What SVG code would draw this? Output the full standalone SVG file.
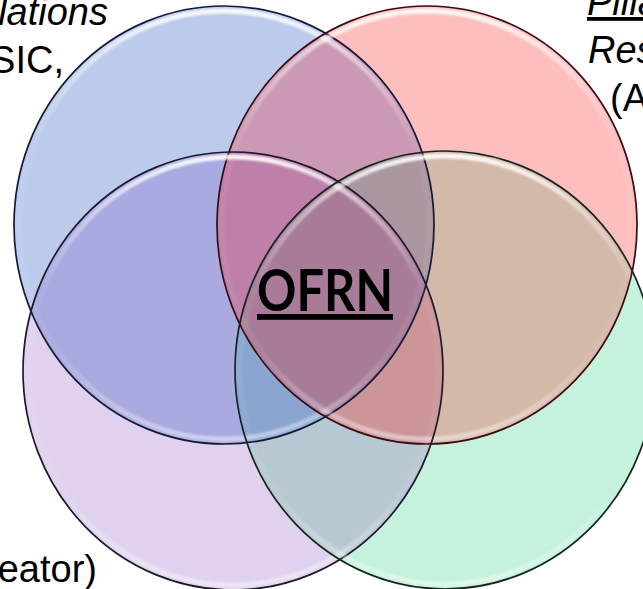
<svg xmlns="http://www.w3.org/2000/svg" width="643" height="589" viewBox="0 0 643 589">
<defs>
<style>
.lbl{font-family:"Liberation Sans",Arial,sans-serif;font-size:38px;fill:#000}
.it{font-style:italic}
.edge{fill:none;stroke-width:1.7}
.hl{fill:none;stroke:url(#hlg);stroke-width:5;filter:url(#soft)}
.center{font-family:Lato,"Open Sans",sans-serif;font-weight:700;font-size:58px;fill:#000;text-decoration:underline}
</style>
<linearGradient id="hlg" x1="0" y1="0" x2="0" y2="1">
<stop offset="0" stop-color="#fff" stop-opacity="0.9"/>
<stop offset="0.12" stop-color="#fff" stop-opacity="0.45"/>
<stop offset="0.3" stop-color="#fff" stop-opacity="0.06"/>
<stop offset="0.8" stop-color="#fff" stop-opacity="0.06"/>
<stop offset="1" stop-color="#fff" stop-opacity="0.45"/>
</linearGradient>
<filter id="soft" x="-5%" y="-5%" width="110%" height="110%"><feGaussianBlur stdDeviation="1.2"/></filter>
<clipPath id="cB"><ellipse cx="224" cy="225" rx="210" ry="219"/></clipPath>
<clipPath id="cR"><ellipse cx="427" cy="225" rx="210" ry="219"/></clipPath>
<clipPath id="cP"><ellipse cx="233" cy="371" rx="210" ry="219"/></clipPath>
<clipPath id="cG"><ellipse cx="445" cy="370" rx="210" ry="219"/></clipPath>
</defs>
<rect width="643" height="589" fill="#fff"/>

<g id="regions">
<!-- single sets -->
<ellipse cx="224" cy="225" rx="210" ry="219" fill="#bccbec"/>
<ellipse cx="427" cy="225" rx="210" ry="219" fill="#ffbebe"/>
<ellipse cx="233" cy="371" rx="210" ry="219" fill="#e0d2ee"/>
<ellipse cx="445" cy="370" rx="210" ry="219" fill="#c4f2dc"/>
<!-- pairs -->
<g clip-path="url(#cB)"><ellipse cx="427" cy="225" rx="210" ry="219" fill="#cc99b4"/></g>
<g clip-path="url(#cB)"><ellipse cx="233" cy="371" rx="210" ry="219" fill="#a8aae0"/></g>
<g clip-path="url(#cR)"><ellipse cx="445" cy="370" rx="210" ry="219" fill="#d4b8a8"/></g>
<g clip-path="url(#cP)"><ellipse cx="445" cy="370" rx="210" ry="219" fill="#b8c8d2"/></g>
<!-- triples -->
<g clip-path="url(#cB)"><g clip-path="url(#cR)"><ellipse cx="233" cy="371" rx="210" ry="219" fill="#be80a8"/></g></g>
<g clip-path="url(#cB)"><g clip-path="url(#cR)"><ellipse cx="445" cy="370" rx="210" ry="219" fill="#aa96a0"/></g></g>
<g clip-path="url(#cB)"><g clip-path="url(#cP)"><ellipse cx="445" cy="370" rx="210" ry="219" fill="#8aa6d0"/></g></g>
<g clip-path="url(#cR)"><g clip-path="url(#cP)"><ellipse cx="445" cy="370" rx="210" ry="219" fill="#cc9598"/></g></g>
<!-- all four -->
<g clip-path="url(#cB)"><g clip-path="url(#cR)"><g clip-path="url(#cP)"><ellipse cx="445" cy="370" rx="210" ry="219" fill="#a87c98"/></g></g></g>
</g>

<g id="set-blue">
<ellipse class="hl" cx="224" cy="225" rx="205" ry="214"/>
<ellipse class="edge" cx="224" cy="225" rx="210" ry="219" stroke="#141a38"/>
<text class="lbl it" x="108" y="25" text-anchor="end">lations</text>
<text class="lbl" x="64" y="73" text-anchor="end">SIC,</text>
</g>
<g id="set-red">
<ellipse class="hl" cx="427" cy="225" rx="205" ry="214"/>
<ellipse class="edge" cx="427" cy="225" rx="210" ry="219" stroke="#3a0c12"/>
<text class="lbl it" x="587" y="15" style="text-decoration:underline">Pilla</text>
<text class="lbl it" x="588" y="63">Res</text>
<text class="lbl" x="610" y="111">(A</text>
</g>
<g id="set-purple">
<ellipse class="hl" cx="233" cy="371" rx="205" ry="214"/>
<ellipse class="edge" cx="233" cy="371" rx="210" ry="219" stroke="#1e1a2e"/>
<text class="lbl" x="97" y="582" text-anchor="end">eator)</text>
</g>
<g id="set-green">
<ellipse class="hl" cx="445" cy="370" rx="205" ry="214"/>
<ellipse class="edge" cx="445" cy="370" rx="210" ry="219" stroke="#14261e"/>
</g>
<g id="label-center">
<text class="center" x="325" y="311" text-anchor="middle" textLength="136" lengthAdjust="spacingAndGlyphs">OFRN</text>
</g>
</svg>
